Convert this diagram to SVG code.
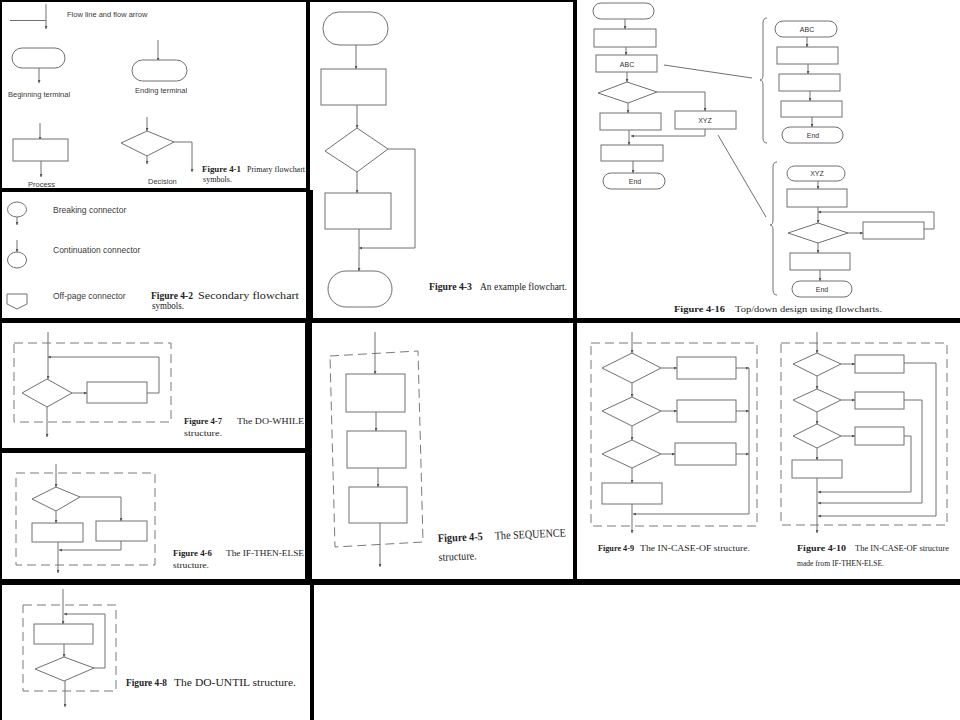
<svg xmlns="http://www.w3.org/2000/svg" width="960" height="720" viewBox="0 0 960 720">
<style>
.ln{stroke:#707070;stroke-width:1;fill:none}
.sh{stroke:#707070;stroke-width:1;fill:#fff}
.ds{stroke:#7a7a7a;stroke-width:1;fill:none;stroke-dasharray:9 5}
.lab{font-family:"Liberation Sans",Arial,sans-serif;font-size:7.5px;fill:#3a3a3a}
.lab2{font-family:"Liberation Sans",Arial,sans-serif;font-size:8.5px;fill:#3a3a3a}
.in{font-family:"Liberation Sans",Arial,sans-serif;font-size:7px;fill:#333;text-anchor:middle}
.cap{font-family:"Liberation Serif","Times New Roman",serif;font-size:9px;fill:#222}
.b{font-weight:bold}
.bd{fill:#000}
</style>
<defs>
<marker id="ar" viewBox="0 0 6 6" refX="6" refY="3" markerWidth="3" markerHeight="3" orient="auto"><path d="M0,0 L6,3 L0,6 z" fill="#555"/></marker>
</defs>
<rect width="960" height="720" fill="#fff"/>

<!-- panel borders -->
<g id="borders">
<rect class="bd" x="0" y="0" width="575" height="2"/>
<rect class="bd" x="0" y="0" width="2" height="720"/>
<rect class="bd" x="306" y="0" width="4" height="190"/>
<rect class="bd" x="306" y="190" width="7" height="132"/>
<rect class="bd" x="0" y="188" width="310" height="4"/>
<rect class="bd" x="573" y="0" width="4" height="322"/>
<rect class="bd" x="0" y="318" width="960" height="5"/>
<rect class="bd" x="305" y="320" width="7" height="262"/>
<rect class="bd" x="0" y="448" width="310" height="5"/>
<rect class="bd" x="573" y="320" width="4" height="262"/>
<rect class="bd" x="0" y="579" width="960" height="6"/>
<rect class="bd" x="310" y="584" width="4" height="136"/>
</g>

<!-- Figure 4-1 -->
<g id="fig4-1">
<g id="flowline"><path class="ln" d="M10,20.5 H46"/><path class="ln" d="M46,4 V29" marker-end="url(#ar)"/>
<text class="lab" x="67" y="17">Flow line and flow arrow</text></g>
<g id="begin-terminal"><rect class="sh" x="12" y="48" width="53" height="20" rx="10"/><path class="ln" d="M39,68 V83" marker-end="url(#ar)"/>
<text class="lab" x="8" y="97">Beginning terminal</text></g>
<g id="end-terminal"><path class="ln" d="M158,40 V61" marker-end="url(#ar)"/><rect class="sh" x="132" y="60" width="55" height="21" rx="10.5"/>
<text class="lab" x="135" y="93">Ending terminal</text></g>
<g id="process"><path class="ln" d="M40,123 V140" marker-end="url(#ar)"/><rect class="sh" x="13" y="139" width="55" height="22"/><path class="ln" d="M41,161 V177" marker-end="url(#ar)"/>
<text class="lab" x="28" y="187">Process</text></g>
<g id="decision"><path class="ln" d="M147,117 V131" marker-end="url(#ar)"/><polygon class="sh" points="147,131 174,142 147,156 121,143"/>
<path class="ln" d="M174,142 H192 V172" marker-end="url(#ar)"/><path class="ln" d="M147,156 V164" marker-end="url(#ar)"/>
<text class="lab" x="148" y="184">Decision</text></g>
<text class="cap" style="font-size:8.5px" y="172"><tspan class="b" x="202" textLength="39" lengthAdjust="spacingAndGlyphs">Figure 4-1</tspan><tspan x="247" textLength="58" lengthAdjust="spacingAndGlyphs">Primary flowchart</tspan></text>
<text class="cap" style="font-size:8.5px" x="203" y="182" textLength="29" lengthAdjust="spacingAndGlyphs">symbols.</text>
</g>

<!-- Figure 4-2 -->
<g id="fig4-2">
<g id="breaking"><ellipse class="sh" cx="17" cy="209.5" rx="9.5" ry="7.5"/><path class="ln" d="M17,217 V225" marker-end="url(#ar)"/>
<text class="lab2" x="53" y="213">Breaking connector</text></g>
<g id="continuation"><path class="ln" d="M17,240 V252" marker-end="url(#ar)"/><ellipse class="sh" cx="17" cy="260" rx="9.5" ry="8"/>
<text class="lab2" x="53" y="253">Continuation connector</text></g>
<g id="offpage"><polygon class="sh" points="7,294 27,294 27,304 17,309 7,304"/>
<text class="lab2" x="53" y="299">Off-page connector</text></g>
<text class="cap" style="font-size:10px" y="299"><tspan class="b" x="151" textLength="42" lengthAdjust="spacingAndGlyphs">Figure 4-2</tspan><tspan x="198" textLength="101" lengthAdjust="spacingAndGlyphs">Secondary flowchart</tspan></text>
<text class="cap" style="font-size:10px" x="152" y="309" textLength="32" lengthAdjust="spacingAndGlyphs">symbols.</text>
</g>

<!-- Figure 4-3 -->
<g id="fig4-3">
<rect id="f3-start" class="sh" x="323" y="12" width="65" height="33" rx="16"/>
<rect id="f3-proc1" class="sh" x="321" y="69" width="65" height="36"/>
<polygon id="f3-dec" class="sh" points="357,128 388,149 357,172 325,151"/>
<rect id="f3-proc2" class="sh" x="325" y="193" width="66" height="36"/>
<rect id="f3-end" class="sh" x="328" y="271" width="64" height="36" rx="18"/>
<g id="f3-connectors">
<path class="ln" d="M356,45 V69" marker-end="url(#ar)"/>
<path class="ln" d="M357,105 V128" marker-end="url(#ar)"/>
<path class="ln" d="M357,172 V193" marker-end="url(#ar)"/>
<path class="ln" d="M388,149 H415 V248 H359" marker-end="url(#ar)"/>
<path class="ln" d="M359,229 V271" marker-end="url(#ar)"/>
</g>
<text class="cap" style="font-size:10px" y="290"><tspan class="b" x="429" textLength="43" lengthAdjust="spacingAndGlyphs">Figure 4-3</tspan><tspan x="480" textLength="87" lengthAdjust="spacingAndGlyphs">An example flowchart.</tspan></text>
</g>

<!-- Figure 4-16 -->
<g id="fig4-16">
<g id="main-chart">
<rect class="sh" x="593" y="3" width="61" height="16" rx="8"/>
<rect class="sh" x="594" y="29" width="62" height="18"/>
<rect class="sh" x="596" y="55" width="61" height="17"/><text class="in" x="627" y="66.5">ABC</text>
<polygon class="sh" points="627,82 657,92 628,103 598,93"/>
<rect class="sh" x="600" y="113" width="61" height="17"/>
<rect class="sh" x="675" y="111" width="61" height="18"/><text class="in" x="705" y="122.5">XYZ</text>
<rect class="sh" x="601" y="145" width="62" height="16"/>
<rect class="sh" x="603" y="173" width="62" height="16" rx="8"/><text class="in" x="635" y="183.5">End</text>
</g>
<g id="abc-chart">
<rect class="sh" x="775" y="21" width="62" height="16" rx="8"/><text class="in" x="807" y="31.5">ABC</text>
<rect class="sh" x="777" y="47" width="61" height="17"/>
<rect class="sh" x="779" y="74" width="61" height="17"/>
<rect class="sh" x="781" y="101" width="61" height="16"/>
<rect class="sh" x="782" y="127" width="61" height="16" rx="8"/><text class="in" x="813" y="137.5">End</text>
</g>
<g id="xyz-chart">
<rect class="sh" x="787" y="166" width="58" height="15" rx="7.5"/><text class="in" x="817" y="176">XYZ</text>
<rect class="sh" x="787" y="189" width="60" height="18"/>
<polygon class="sh" points="818,223 848,233 818,243 788,233"/>
<rect class="sh" x="863" y="222" width="61" height="17"/>
<rect class="sh" x="790" y="253" width="60" height="17"/>
<rect class="sh" x="792" y="281" width="60" height="16" rx="8"/><text class="in" x="822" y="291.5">End</text>
</g>
<g id="f16-connectors">
<path class="ln" d="M625,19 V29" marker-end="url(#ar)"/>
<path class="ln" d="M626,47 V55" marker-end="url(#ar)"/>
<path class="ln" d="M627,72 V82" marker-end="url(#ar)"/>
<path class="ln" d="M657,92 H705 V111" marker-end="url(#ar)"/>
<path class="ln" d="M628,103 V113" marker-end="url(#ar)"/>
<path class="ln" d="M705,129 V136 H631" marker-end="url(#ar)"/>
<path class="ln" d="M629,130 V145" marker-end="url(#ar)"/>
<path class="ln" d="M633,161 V173" marker-end="url(#ar)"/>
<path class="ln" d="M664,65 L752,78"/>
<path class="ln" d="M718,135 L766,217"/>
<path class="ln" d="M767,18 Q763,18 763,23 V75 Q763,80 760,80 Q763,80 763,85 V138 Q763,143 767,143"/>
<path class="ln" d="M777,162 Q773,162 773,167 V220 Q773,225 770,225 Q773,225 773,230 V290 Q773,295 777,295"/>
<path class="ln" d="M807,37 V47" marker-end="url(#ar)"/>
<path class="ln" d="M808,64 V74" marker-end="url(#ar)"/>
<path class="ln" d="M810,91 V101" marker-end="url(#ar)"/>
<path class="ln" d="M812,117 V127" marker-end="url(#ar)"/>
<path class="ln" d="M818,181 V189" marker-end="url(#ar)"/>
<path class="ln" d="M818,207 V223" marker-end="url(#ar)"/>
<path class="ln" d="M924,229 H934 V212 H818" marker-end="url(#ar)"/>
<path class="ln" d="M848,233 H863" marker-end="url(#ar)"/>
<path class="ln" d="M818,243 V253" marker-end="url(#ar)"/>
<path class="ln" d="M820,270 V281" marker-end="url(#ar)"/>
</g>
<text class="cap" y="312"><tspan class="b" x="674" textLength="51" lengthAdjust="spacingAndGlyphs">Figure 4-16</tspan><tspan x="735" textLength="147" lengthAdjust="spacingAndGlyphs">Top/down design using flowcharts.</tspan></text>
</g>

<!-- Figure 4-7 DO-WHILE -->
<g id="fig4-7">
<rect class="ds" x="14" y="343" width="157" height="79"/>
<polygon id="f7-dec" class="sh" points="47,379 72,393 47,407 22,393"/>
<rect id="f7-proc" class="sh" x="87" y="382" width="60" height="21"/>
<g id="f7-connectors">
<path class="ln" d="M48,332 V379" marker-end="url(#ar)"/>
<path class="ln" d="M72,393 H87" marker-end="url(#ar)"/>
<path class="ln" d="M147,393 H159 V357 H48" marker-end="url(#ar)"/>
<path class="ln" d="M47,407 V437" marker-end="url(#ar)"/>
</g>
<text class="cap" y="424"><tspan class="b" x="184" textLength="38" lengthAdjust="spacingAndGlyphs">Figure 4-7</tspan><tspan x="237" textLength="67" lengthAdjust="spacingAndGlyphs">The DO-WHILE</tspan></text>
<text class="cap" x="184" y="436" textLength="38" lengthAdjust="spacingAndGlyphs">structure.</text>
</g>

<!-- Figure 4-6 IF-THEN-ELSE -->
<g id="fig4-6">
<rect class="ds" x="16" y="473" width="139" height="92"/>
<polygon id="f6-dec" class="sh" points="56,487 80,497 56,511 32,499"/>
<rect id="f6-then" class="sh" x="32" y="523" width="51" height="19"/>
<rect id="f6-else" class="sh" x="96" y="521" width="51" height="20"/>
<g id="f6-connectors">
<path class="ln" d="M56,464 V487" marker-end="url(#ar)"/>
<path class="ln" d="M80,497 H121 V521" marker-end="url(#ar)"/>
<path class="ln" d="M56,511 V523" marker-end="url(#ar)"/>
<path class="ln" d="M121,541 V550 H59" marker-end="url(#ar)"/>
<path class="ln" d="M58,542 V573" marker-end="url(#ar)"/>
</g>
<text class="cap" y="556"><tspan class="b" x="173" textLength="39" lengthAdjust="spacingAndGlyphs">Figure 4-6</tspan><tspan x="226" textLength="78" lengthAdjust="spacingAndGlyphs">The IF-THEN-ELSE</tspan></text>
<text class="cap" x="173" y="568" textLength="36" lengthAdjust="spacingAndGlyphs">structure.</text>
</g>

<!-- Figure 4-5 SEQUENCE -->
<g id="fig4-5">
<polygon class="ds" points="330,356 418,351 423,542 335,547"/>
<rect id="f5-p1" class="sh" x="346" y="374" width="59" height="38"/>
<rect id="f5-p2" class="sh" x="347" y="431" width="59" height="37"/>
<rect id="f5-p3" class="sh" x="349" y="487" width="58" height="36"/>
<g id="f5-connectors">
<path class="ln" d="M375,332 V374" marker-end="url(#ar)"/>
<path class="ln" d="M376,412 V431" marker-end="url(#ar)"/>
<path class="ln" d="M378,468 V487" marker-end="url(#ar)"/>
<path class="ln" d="M380,523 V567" marker-end="url(#ar)"/>
</g>
<g transform="rotate(-2.5 438 542)">
<text class="cap" style="font-size:11.5px" y="542"><tspan class="b" x="438" textLength="45" lengthAdjust="spacingAndGlyphs">Figure 4-5</tspan><tspan x="495" textLength="71" lengthAdjust="spacingAndGlyphs">The SEQUENCE</tspan></text>
<text class="cap" style="font-size:11.5px" x="438" y="561" textLength="38" lengthAdjust="spacingAndGlyphs">structure.</text>
</g>
</g>

<!-- Figure 4-9 IN-CASE-OF -->
<g id="fig4-9">
<rect class="ds" x="591" y="343" width="166" height="183"/>
<polygon class="sh" points="632,353 661,368 632,383 602,368"/>
<polygon class="sh" points="632,397 661,411 632,426 602,411"/>
<polygon class="sh" points="632,440 661,454 632,468 602,454"/>
<rect class="sh" x="677" y="357" width="59" height="22"/>
<rect class="sh" x="677" y="400" width="59" height="22"/>
<rect class="sh" x="675" y="443" width="61" height="22"/>
<rect class="sh" x="602" y="483" width="60" height="21"/>
<g id="f9-connectors">
<path class="ln" d="M632,332 V353" marker-end="url(#ar)"/>
<path class="ln" d="M661,368 H677" marker-end="url(#ar)"/>
<path class="ln" d="M661,411 H677" marker-end="url(#ar)"/>
<path class="ln" d="M661,454 H675" marker-end="url(#ar)"/>
<path class="ln" d="M736,368 H749" marker-end="url(#ar)"/>
<path class="ln" d="M736,411 H749" marker-end="url(#ar)"/>
<path class="ln" d="M736,454 H749" marker-end="url(#ar)"/>
<path class="ln" d="M749,368 V514 H633" marker-end="url(#ar)"/>
<path class="ln" d="M632,383 V397" marker-end="url(#ar)"/>
<path class="ln" d="M632,426 V440" marker-end="url(#ar)"/>
<path class="ln" d="M632,468 V483" marker-end="url(#ar)"/>
<path class="ln" d="M632,504 V533" marker-end="url(#ar)"/>
</g>
<text class="cap" style="font-size:8.5px" y="551"><tspan class="b" x="598" textLength="36" lengthAdjust="spacingAndGlyphs">Figure 4-9</tspan><tspan x="640" textLength="110" lengthAdjust="spacingAndGlyphs">The IN-CASE-OF structure.</tspan></text>
</g>

<!-- Figure 4-10 -->
<g id="fig4-10">
<rect class="ds" x="781" y="343" width="166" height="182"/>
<polygon class="sh" points="817,353 841,364 817,376 793,364"/>
<polygon class="sh" points="817,389 841,400 817,412 793,400"/>
<polygon class="sh" points="817,424 841,436 817,448 793,436"/>
<rect class="sh" x="855" y="355" width="49" height="18"/>
<rect class="sh" x="855" y="392" width="49" height="17"/>
<rect class="sh" x="855" y="427" width="49" height="18"/>
<rect class="sh" x="792" y="460" width="50" height="18"/>
<g id="f10-connectors">
<path class="ln" d="M817,332 V353" marker-end="url(#ar)"/>
<path class="ln" d="M841,364 H855" marker-end="url(#ar)"/>
<path class="ln" d="M841,400 H855" marker-end="url(#ar)"/>
<path class="ln" d="M841,436 H855" marker-end="url(#ar)"/>
<path class="ln" d="M904,363 H936 V516 H818" marker-end="url(#ar)"/>
<path class="ln" d="M904,400 H922 V503 H818" marker-end="url(#ar)"/>
<path class="ln" d="M904,436 H911 V492 H818" marker-end="url(#ar)"/>
<path class="ln" d="M817,376 V389" marker-end="url(#ar)"/>
<path class="ln" d="M817,412 V424" marker-end="url(#ar)"/>
<path class="ln" d="M817,448 V460" marker-end="url(#ar)"/>
<path class="ln" d="M817,478 V533" marker-end="url(#ar)"/>
</g>
<text class="cap" style="font-size:8.5px" y="551"><tspan class="b" x="797" textLength="49" lengthAdjust="spacingAndGlyphs">Figure 4-10</tspan><tspan x="855" textLength="94" lengthAdjust="spacingAndGlyphs">The IN-CASE-OF structure</tspan></text>
<text class="cap" style="font-size:8.5px" x="797" y="566" textLength="87" lengthAdjust="spacingAndGlyphs">made from IF-THEN-ELSE.</text>
</g>

<!-- Figure 4-8 DO-UNTIL -->
<g id="fig4-8">
<rect class="ds" x="23" y="605" width="93" height="86"/>
<rect id="f8-proc" class="sh" x="34" y="624" width="59" height="20"/>
<polygon id="f8-dec" class="sh" points="64,657 94,668 64,681 35,669"/>
<g id="f8-connectors">
<path class="ln" d="M63,589 V624" marker-end="url(#ar)"/>
<path class="ln" d="M94,668 H105 V614 H64" marker-end="url(#ar)"/>
<path class="ln" d="M64,644 V657" marker-end="url(#ar)"/>
<path class="ln" d="M65,681 V707" marker-end="url(#ar)"/>
</g>
<text class="cap" style="font-size:10px" y="686"><tspan class="b" x="126" textLength="41" lengthAdjust="spacingAndGlyphs">Figure 4-8</tspan><tspan x="174" textLength="122" lengthAdjust="spacingAndGlyphs">The DO-UNTIL structure.</tspan></text>
</g>
</svg>
